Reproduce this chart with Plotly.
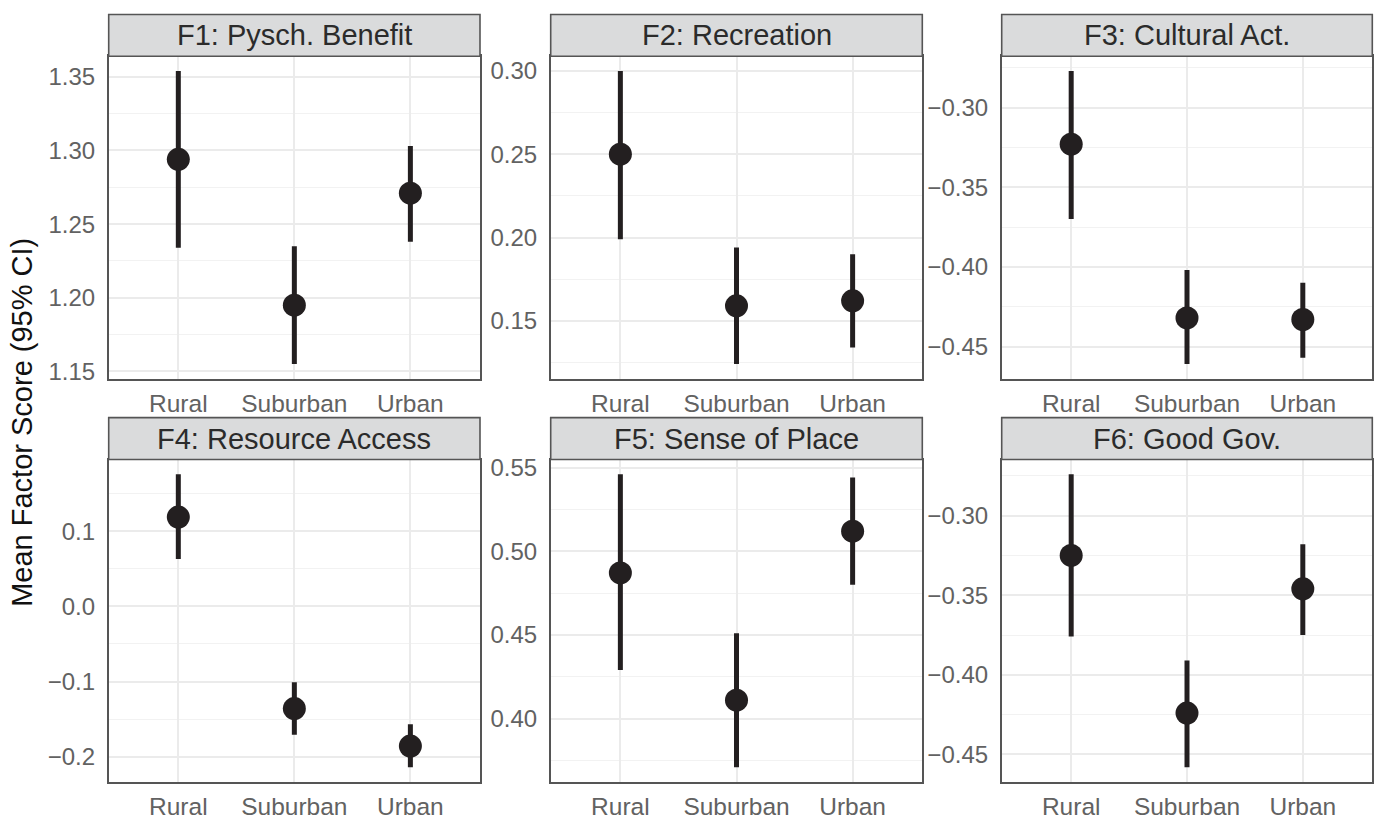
import plotly.graph_objects as go

categories = ["Rural", "Suburban", "Urban"]
panel_titles = ["F1: Pysch. Benefit", "F2: Recreation", "F3: Cultural Act.",
                "F4: Resource Access", "F5: Sense of Place", "F6: Good Gov."]

f1_mean = [1.294, 1.195, 1.271]
f1_low = [1.234, 1.155, 1.238]
f1_high = [1.354, 1.235, 1.303]

f2_mean = [0.250, 0.159, 0.162]
f2_low = [0.199, 0.124, 0.134]
f2_high = [0.300, 0.194, 0.190]

f3_mean = [-0.323, -0.432, -0.433]
f3_low = [-0.370, -0.461, -0.457]
f3_high = [-0.277, -0.402, -0.410]

f4_mean = [0.119, -0.136, -0.186]
f4_low = [0.063, -0.171, -0.214]
f4_high = [0.176, -0.101, -0.157]

f5_mean = [0.487, 0.411, 0.512]
f5_low = [0.429, 0.371, 0.480]
f5_high = [0.546, 0.451, 0.544]

f6_mean = [-0.325, -0.424, -0.346]
f6_low = [-0.376, -0.458, -0.375]
f6_high = [-0.274, -0.391, -0.318]

tick_steps = [0.05, 0.05, 0.05, 0.1, 0.05, 0.05]
tick_formats = [".2f", ".2f", ".2f", ".1f", ".2f", ".2f"]

panels = [
    (f1_mean, f1_low, f1_high),
    (f2_mean, f2_low, f2_high),
    (f3_mean, f3_low, f3_high),
    (f4_mean, f4_low, f4_high),
    (f5_mean, f5_low, f5_high),
    (f6_mean, f6_low, f6_high),
]

W, H = 1378, 821
col_px = [(108.7, 480.0), (550.7, 922.3), (1001.7, 1372.3)]
row_plot_px = [(51.0, 378.3), (460.3, 787.3)]
row_strip_px = [(8.7, 51.0), (417.7, 460.3)]

FONT = "Liberation Sans, Arial, Helvetica, sans-serif"
INK = "#231F20"
BORDER = "#555555"
GRID = "#EBEBEB"
TICKCOL = "#626262"

fig = go.Figure()
shapes = []
annotations = []

for i, (mean, low, high) in enumerate(panels):
    r, c = divmod(i, 3)
    idx = "" if i == 0 else str(i + 1)
    xa = "xaxis" + idx
    ya = "yaxis" + idx
    x0p, x1p = col_px[c]
    y0p, y1p = row_plot_px[r]
    sy0, sy1 = row_strip_px[r]
    xdom = [x0p / W, x1p / W]
    ydom = [1 - y1p / H, 1 - y0p / H]

    fig.add_trace(go.Scatter(
        x=categories, y=mean, mode="markers",
        marker=dict(size=23, color=INK),
        error_y=dict(type="data", symmetric=False,
                     array=[h - m for h, m in zip(high, mean)],
                     arrayminus=[m - l for m, l in zip(mean, low)],
                     width=0, thickness=5, color=INK),
        xaxis="x" + idx, yaxis="y" + idx, showlegend=False,
    ))

    lo = min(low)
    hi = max(high)
    span = hi - lo
    yr = [lo - 0.05 * span, hi + 0.05 * span]
    step = tick_steps[i]

    fig.layout[xa] = dict(
        domain=xdom, anchor="y" + idx, type="category",
        range=[-0.6, 2.6], showgrid=True, gridcolor=GRID, gridwidth=1.6,
        showline=True, mirror=True, linecolor=BORDER, linewidth=1.6,
        zeroline=False, ticks="outside", ticklen=2, tickcolor="rgba(0,0,0,0)",
        tickfont=dict(family=FONT, size=24.5, color=TICKCOL),
        categoryorder="array", categoryarray=categories,
    )
    fig.layout[ya] = dict(
        domain=ydom, anchor="x" + idx, range=yr,
        tick0=0, dtick=step, tickformat=tick_formats[i],
        showgrid=True, gridcolor=GRID, gridwidth=1.6,
        minor=dict(tick0=0, dtick=step / 2, showgrid=True, gridcolor="#F2F2F2", gridwidth=1),
        showline=True, mirror=True, linecolor=BORDER, linewidth=1.6,
        zeroline=False, ticks="outside", ticklen=7, tickcolor="rgba(0,0,0,0)",
        tickfont=dict(family=FONT, size=24, color=TICKCOL),
    )

    shapes.append(dict(
        type="rect", xref="paper", yref="paper",
        x0=xdom[0], x1=xdom[1], y0=1 - sy1 / H, y1=1 - sy0 / H,
        fillcolor="#DADBDC", line=dict(color=BORDER, width=1.6), layer="above",
    ))
    annotations.append(dict(
        text=panel_titles[i], xref="paper", yref="paper",
        x=(xdom[0] + xdom[1]) / 2, y=1 - (sy0 + sy1) / 2 / H,
        xanchor="center", yanchor="middle", showarrow=False,
        font=dict(family=FONT, size=29, color="#2B2B2B"),
    ))

annotations.append(dict(
    text="Mean Factor Score (95% CI)", xref="paper", yref="paper",
    x=22.5 / W, y=1 - 422.5 / H, xanchor="center", yanchor="middle",
    textangle=-90, showarrow=False,
    font=dict(family=FONT, size=29, color="#111111"),
))

fig.update_layout(
    width=W, height=H, autosize=False,
    margin=dict(l=0, r=0, t=0, b=0),
    paper_bgcolor="white", plot_bgcolor="white",
    shapes=shapes, annotations=annotations,
    font=dict(family=FONT),
)

fig.write_html("out.html", config={"displayModeBar": False},
               post_script="document.body.style.margin='0';")
